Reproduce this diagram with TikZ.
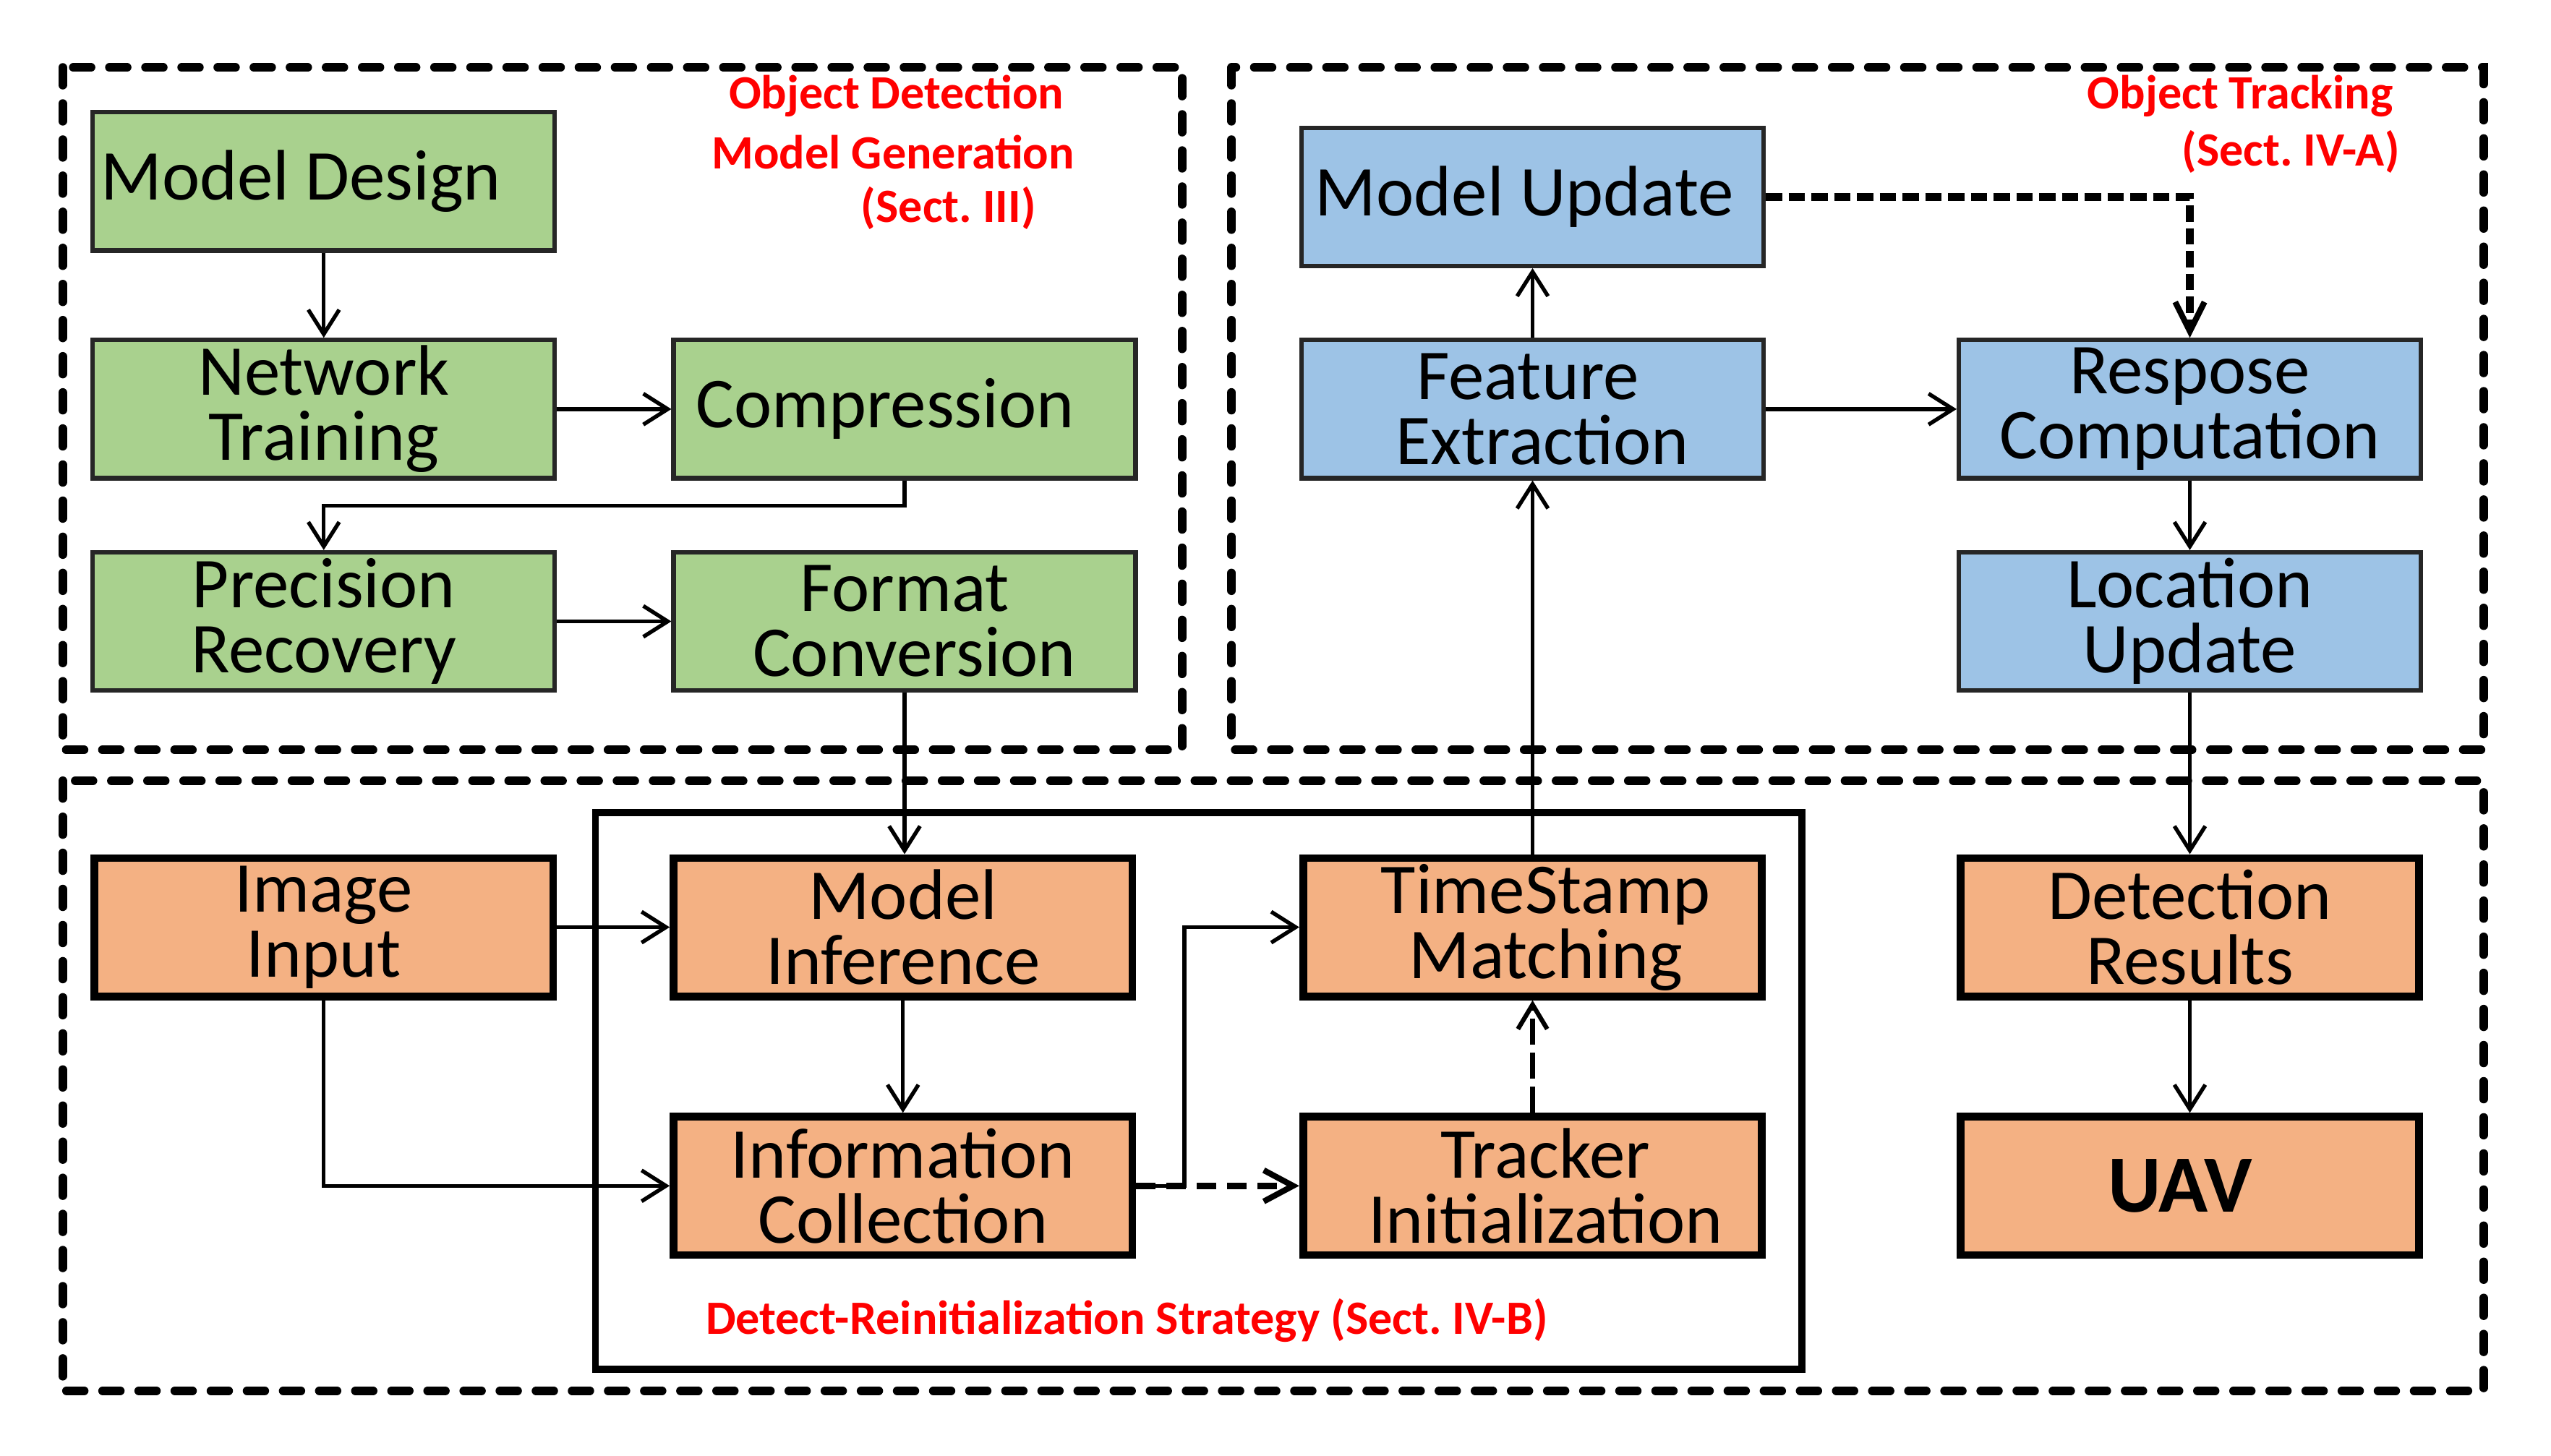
\documentclass[tikz,border=0pt]{standalone}
\usepackage{fontspec}
\setmainfont{Carlito}
\usetikzlibrary{arrows.meta}
\definecolor{gfill}{RGB}{169,209,142}
\definecolor{bfill}{RGB}{157,195,230}
\definecolor{ofill}{RGB}{244,177,131}
\definecolor{redt}{RGB}{255,0,0}
\begin{document}
\frenchspacing
\begin{tikzpicture}[x=0.5pt,y=-0.5pt,
  box/.style={draw=black!85, line width=1.35pt, minimum width=142pt, minimum height=42.5pt, inner sep=0pt, align=center, font=\fontsize{22}{20}\selectfont},
  gbox/.style={box, fill=gfill},
  bbox/.style={box, fill=bfill},
  obox/.style={box, fill=ofill, draw=black, line width=2.4pt, minimum width=141pt, minimum height=42.5pt},
  arr/.style={line width=1.2pt, -{Straight Barb[length=7.5pt,width=9.5pt]}},
  darrA/.style={line width=2.5pt, dash pattern=on 5pt off 2pt, -{Straight Barb[length=9pt,width=9pt,line width=1.8pt]}},
  darrB/.style={line width=2pt, dash pattern=on 6pt off 3.3pt, -{Straight Barb[length=9pt,width=9.6pt,line width=1.8pt]}},
  darrC/.style={line width=1.4pt, dash pattern=on 8pt off 2.5pt, -{Straight Barb[length=7.5pt,width=9pt]}},
  grp/.style={line width=2.7pt, line cap=round, dash pattern=on 5.4pt off 5.7pt},
  lab/.style={text=redt, font=\fontsize{14.7}{17}\selectfont\bfseries, inner sep=0pt}
]
\useasboundingbox (0,0) rectangle (1568,895);

% group frames
\draw[grp] (38.5,41.5) rectangle (726.6,461);
\draw[grp] (757,41.5) rectangle (1526.5,461);
\draw[grp] (38.5,480) rectangle (1526.5,855);
\draw[line width=2.2pt] (366,499.5) rectangle (1107.5,841.6);

% red labels
\node[lab] (l1) at (551,59) {Object Detection};
\node[lab] (l2) at (549,93.5) {Model Generation};
\node[lab] (l3) at (583,128) {(Sect. III)};
\node[lab] (l4) at (1377,59) {Object Tracking};
\node[lab] (l5) at (1408,93.5) {(Sect. IV-A)};
\node[lab] (l6) at (692.6,812) {Detect-Reinitialization Strategy (Sect. IV-B)};

% green boxes
\node[gbox] (md) at (199,111.5) {\hspace*{-14pt}Model Design};
\node[gbox] (nt) at (199,251.5) {Network\\Training};
\node[gbox] (cp) at (556,251.5) {\hspace*{-12pt}Compression};
\node[gbox] (pr) at (199,382) {Precision\\Recovery};
\node[gbox] (fc) at (556,382) {Format\\\hspace*{6pt}Conversion};

% blue boxes
\node[bbox] (mu) at (942,121) {\hspace*{-5pt}Model Update};
\node[bbox] (fe) at (942,251.5) {\hspace*{-3pt}Feature\\\hspace*{6pt}Extraction};
\node[bbox] (rc) at (1346,251.5) {Respose\\Computation};
\node[bbox] (lu) at (1346,382) {Location\\Update};

% orange boxes
\node[obox] (ii) at (199,570) {Image\\Input};
\node[obox] (mi) at (555,570) {Model\\Inference};
\node[obox] (ic) at (555,729) {Information\\Collection};
\node[obox] (ts) at (942,570) {\hspace*{8pt}TimeStamp\\\hspace*{8pt}Matching};
\node[obox] (ti) at (942,729) {\hspace*{8pt}Tracker\\\hspace*{8pt}Initialization};
\node[obox] (dr) at (1346,570) {Detection\\Results};
\node[obox, font=\fontsize{25}{25}\selectfont\bfseries] (uav) at (1346,729) {\hspace*{-6pt}UAV};

% connectors
\draw[arr] (md.south) -- (nt.north);
\draw[arr] (nt.east) -- (cp.west);
\draw[arr] (cp.south) -- ++(0,15.5) -| (pr.north);
\draw[arr] (pr.east) -- (fc.west);
\draw[arr] (fc.south) -- (fc.south |- mi.north);
\draw[darrA] (mu.east) -| (rc.north);
\draw[arr] (fe.north) -- (mu.south);
\draw[arr] (fe.east) -- (rc.west);
\draw[arr] (rc.south) -- (lu.north);
\draw[arr] (lu.south) -- (dr.north);
\draw[arr] (ts.north) -- (fe.south);
\draw[darrC] (ti.north) -- (ts.south);
\draw[arr] (ii.east) -- (mi.west);
\draw[arr] (ii.south) |- (ic.west);
\draw[arr] (mi.south) -- (ic.north);
\coordinate (j) at (728,729);
\draw[arr] (ic.east) -- (j) |- (ts.west);
\draw[darrB] (ic.east) -- (ti.west);
\draw[arr] (dr.south) -- (uav.north);
\end{tikzpicture}
\end{document}
